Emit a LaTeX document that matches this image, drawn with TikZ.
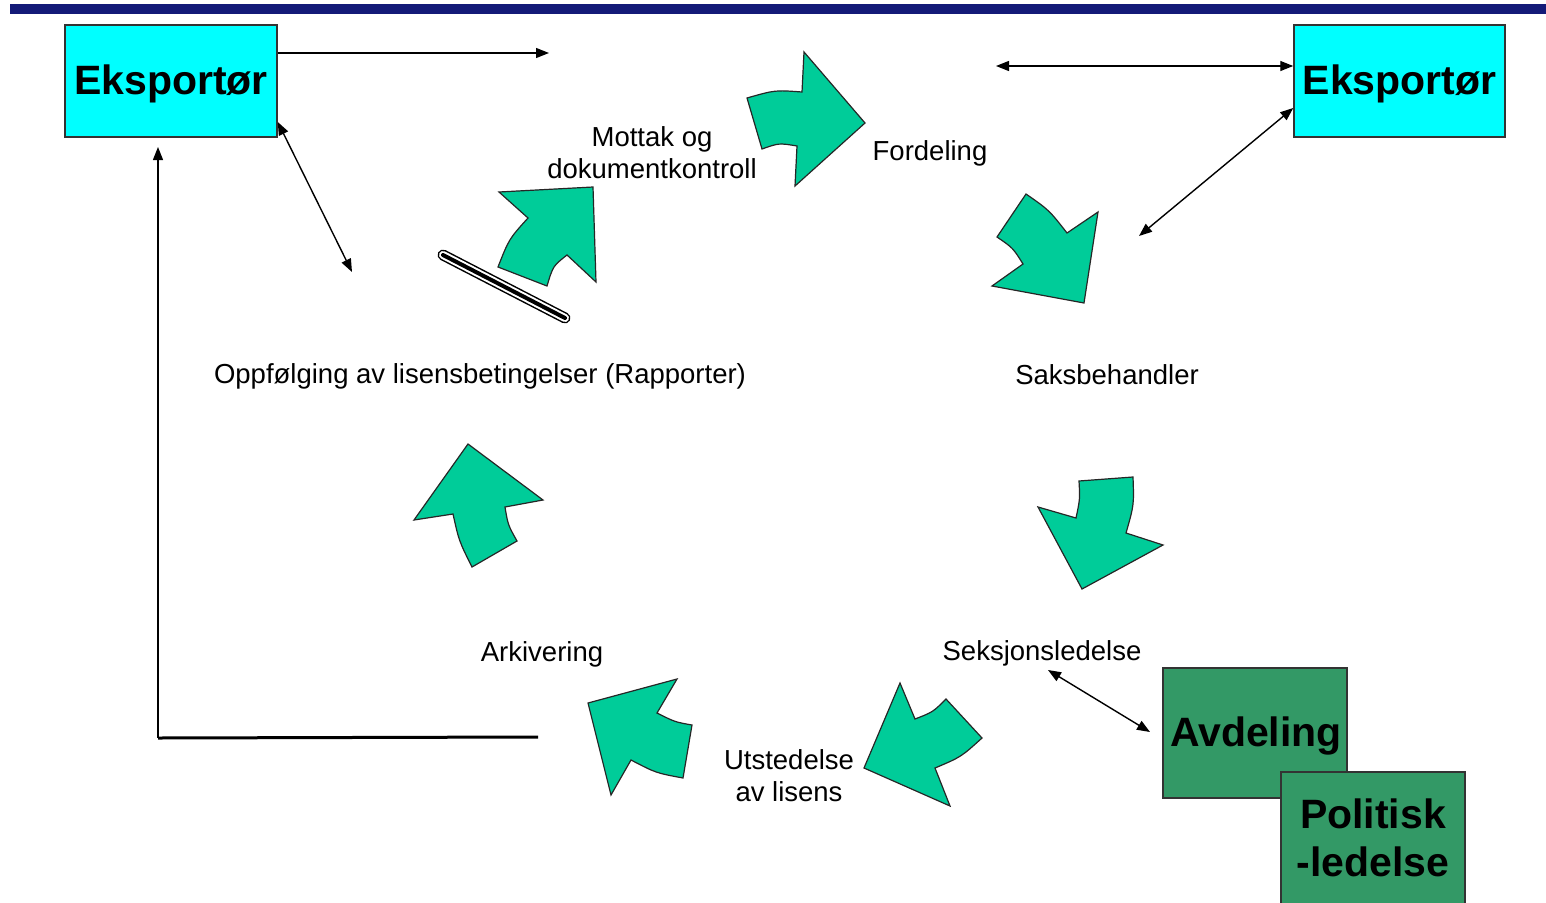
\documentclass[tikz,border=0pt]{standalone}
\usepackage{fontspec}
\setmainfont{Liberation Sans}
\usetikzlibrary{arrows.meta}
\definecolor{navy}{RGB}{20,26,120}
\definecolor{turk}{RGB}{0,204,153}
\definecolor{ekspcyan}{RGB}{0,255,255}
\definecolor{avdgreen}{RGB}{51,153,102}
\tikzset{
  flow/.style={draw=black!85,fill=turk,line width=1.2pt,line join=miter},
  conn/.style={line width=1.4pt},
  lbl/.style={font=\fontsize{27.5}{32}\selectfont,align=center,inner sep=0pt},
  actor/.style={draw=black!80,line width=1.5pt,inner sep=0pt},
  actortxt/.style={align=center,inner sep=0pt,font=\fontsize{41}{48}\selectfont\bfseries},
  >={Triangle[length=13pt,width=10pt]}
}
\begin{document}
\begin{tikzpicture}[x=1pt,y=-1pt]
  \useasboundingbox (0,0) rectangle (1546,902);
  \clip (0,0) rectangle (1546,902);
  \fill[navy] (10,4) rectangle (1546,14);
  % actors
  \node[actor,fill=ekspcyan,minimum width=212pt,minimum height=112pt] (lexp) at (171,81) {};
  \node[actortxt] (lexptxt) at (171,84) {Eksportør};
  \node[actor,fill=ekspcyan,minimum width=211pt,minimum height=112pt] (rexp) at (1399.5,81) {};
  \node[actortxt] (rexptxt) at (1399.5,84) {Eksportør};
  \node[actor,fill=avdgreen,minimum width=184pt,minimum height=130pt] (avd) at (1255,733) {};
  \node[actortxt] (avdtxt) at (1256,736) {Avdeling};
  \node[actor,fill=avdgreen,minimum width=184pt,minimum height=140pt] (pol) at (1373,842) {};
  \node[actortxt] (poltxt) at (1373,838) {Politisk\\-ledelse};
  % steps
  \node[lbl] (mottak) at (652,153) {Mottak og\\dokumentkontroll};
  \node[lbl] (fordeling) at (930,153) {Fordeling};
  \node[lbl] (saks) at (1107,375) {Saksbehandler};
  \node[lbl] (oppf) at (480,376) {Oppfølging av lisensbetingelser (Rapporter)};
  \node[lbl] (seksj) at (1042,653) {Seksjonsledelse};
  \node[lbl] (arkiv) at (542,654) {Arkivering};
  \node[lbl] (utsted) at (789,776) {Utstedelse\\av lisens};
  % free ends
  \coordinate (a1) at (549,53);
  \coordinate (a2) at (996,66);
  \coordinate (a3) at (1139,236);
  \coordinate (a4) at (352,272);
  \coordinate (a5) at (1150,732);
  \coordinate (s5) at (1048,670);
  \coordinate (fb1) at (538,737);
  \coordinate (fb2) at (158,738);
  \coordinate (fb3) at (158,147);
  \draw[conn,->] (lexp.east |- a1) -- (a1);
  \draw[conn,<->] (a2) -- (rexp.west |- a2);
  \draw[conn,<->] (rexp.west |- 0,108) -- (a3);
  \draw[conn,<->] (lexp.east |- 0,122) -- (a4);
  \draw[conn,<->] (s5) -- (a5);
  \draw[line width=3pt] (fb1) -- (fb2);
  \draw[conn,->] (fb2) -- (fb3);
  % blocked bar
  \draw[line width=11pt,line cap=round] (443,255) -- (565,318);
  \draw[white,line width=8pt,line cap=round] (443,255) -- (565,318);
  \draw[line width=4pt,line cap=round] (443,255) -- (565,318);
  % cycle arrows
  \draw[flow] (593,187) -- (596,282) -- (567,255) .. controls (553,266) .. (547,286)
    -- (498,267) .. controls (509,239) .. (528,218) -- (499,192) -- cycle;
  \draw[flow] (747,98) .. controls (775,90) .. (802,92) -- (804,52) -- (865,123)
    -- (795,186) -- (797,146) .. controls (779,143) .. (762,149) -- cycle;
  \draw[flow] (1026,194) .. controls (1049,210) .. (1067,233) -- (1098,212) -- (1084,303)
    -- (992,286) -- (1023,264) .. controls (1013,248) .. (997,237) -- cycle;
  \draw[flow] (1079,481) -- (1133,477) .. controls (1134,505) .. (1126,533) -- (1163,545)
    -- (1082,589) -- (1038,507) -- (1076,518) .. controls (1080,499) .. cycle;
  \draw[flow] (900,683) -- (915,719) .. controls (933,712) .. (946,699) -- (982,738)
    .. controls (961,757) .. (935,768) -- (950,806) -- (864,768) -- cycle;
  \draw[flow] (588,703) -- (677,679) -- (657,713) .. controls (675,722) .. (692,725)
    -- (683,778) .. controls (656,773) .. (631,760) -- (611,795) -- cycle;
  \draw[flow] (468,444) -- (543,500) -- (505,507) .. controls (508,525) .. (517,541)
    -- (472,567) .. controls (459,541) .. (453,514) -- (414,520) -- cycle;
\end{tikzpicture}
\end{document}
